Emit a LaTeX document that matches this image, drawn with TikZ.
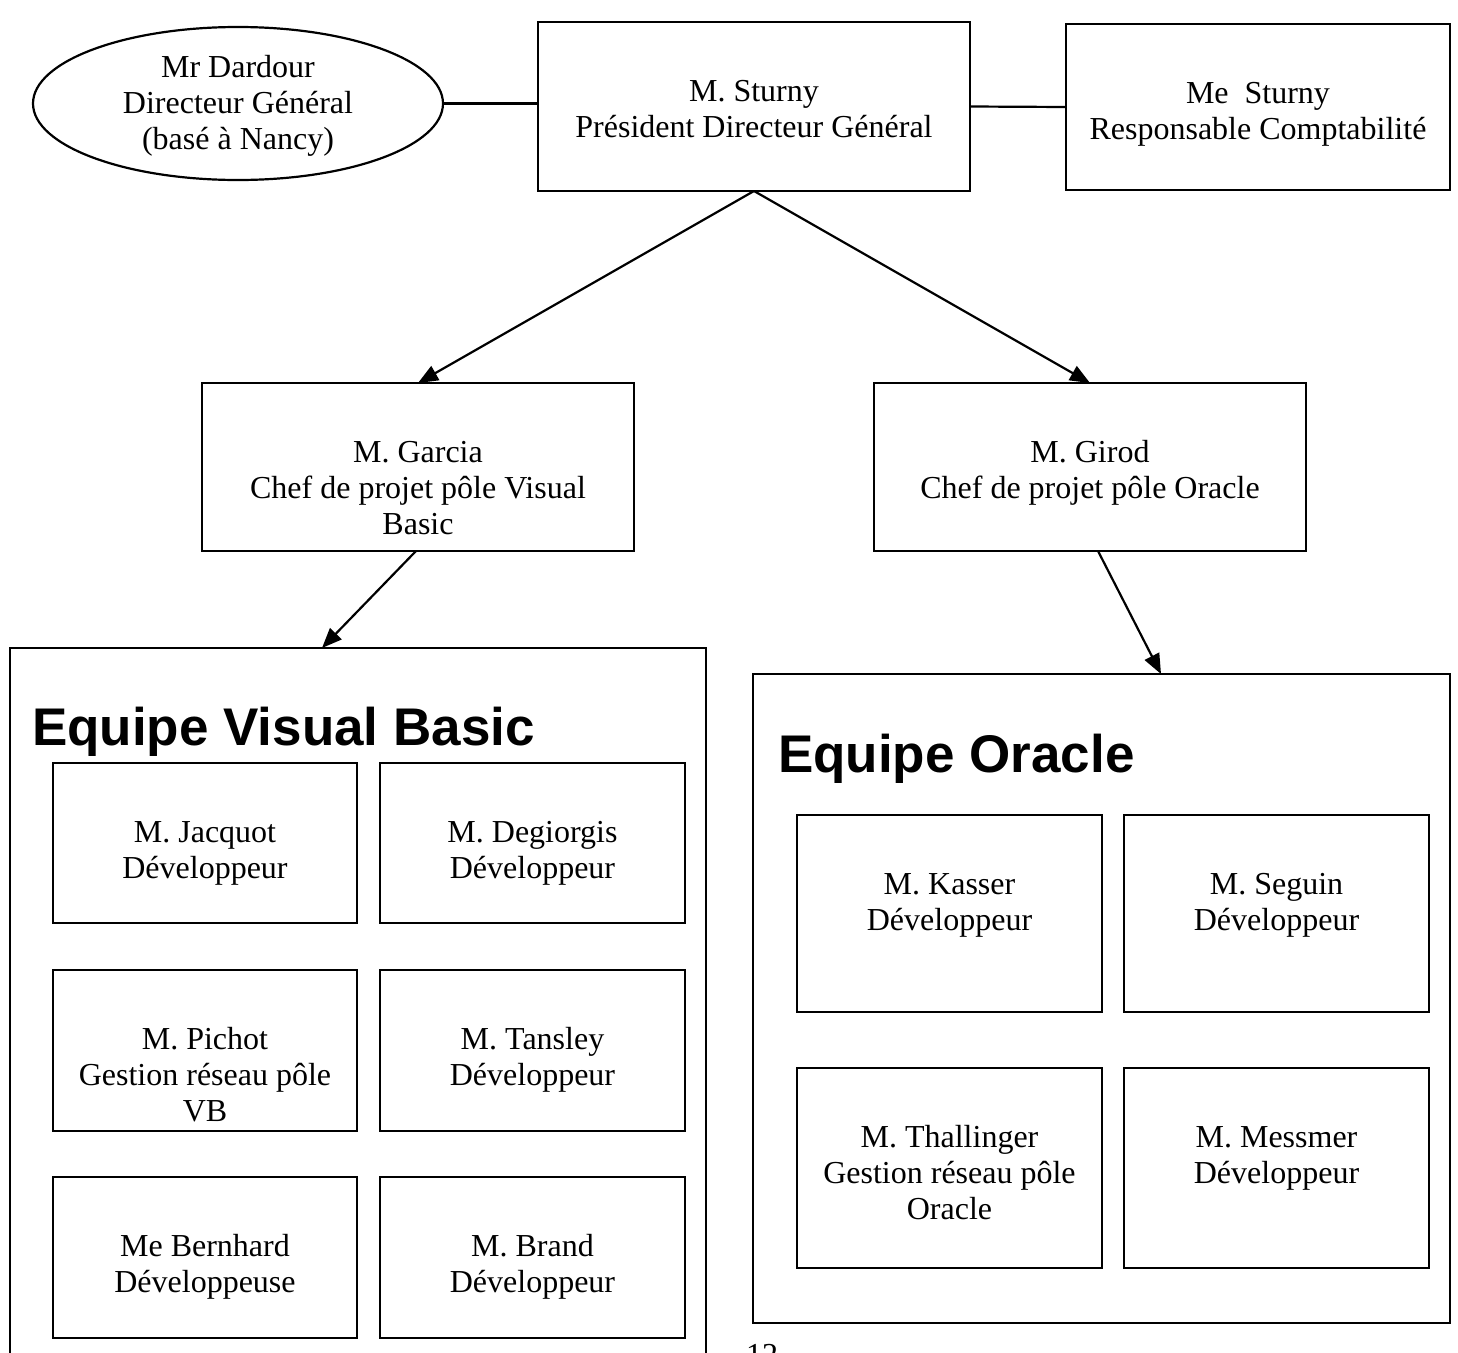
\documentclass[tikz,border=0pt]{standalone}
\usepackage{fontspec}
\setmainfont{Liberation Serif}
\newfontfamily\titlefont{Liberation Sans}
\usetikzlibrary{arrows.meta,shapes.geometric}
\newcommand\orgbox[6]{%
  \node[box, minimum width={(#4-#2)*1pt}, minimum height={(#5-#3)*1pt}] (#1) at ({(#2+#4)/2},{(#3+#5)/2}) {};
  \node[lbl] (#1-t) at ({(#2+#4)/2},{#3+53.5}) {\strut #6};}
\begin{document}
\begin{tikzpicture}[x=1pt,y=-1pt,line width=2.2pt,
  box/.style={draw, rectangle, inner sep=0pt, outer sep=0pt},
  lbl/.style={anchor=north, align=center, inner sep=0pt, font=\fontsize{32}{36}\selectfont},
  ttl/.style={anchor=base west, inner sep=0pt, font=\titlefont\bfseries\fontsize{53}{60}\selectfont},
  arr/.style={-{Triangle[length=20pt,width=16pt]}}]
\useasboundingbox (0,0) rectangle (1458,1352);
\clip (0,0) rectangle (1458,1352);
\fill[white] (0,0) rectangle (1458,1352);

% top row
\node[draw, ellipse, inner sep=0pt, outer sep=0pt, minimum width=410pt, minimum height=153pt] (dard) at (238,103.5) {};
\node[lbl] (dard-t) at (238,51.5) {\strut Mr Dardour\\Directeur Général\\(basé à Nancy)};
\orgbox{pdg}{538}{22}{970}{191}{M. Sturny\\Président Directeur Général}
\orgbox{rc}{1066}{24}{1450}{190}{Me\ \ Sturny\\Responsable Comptabilité}

% chefs de projet
\orgbox{garcia}{202}{383}{634}{551}{M. Garcia\\Chef de projet pôle Visual\\Basic}
\orgbox{girod}{874}{383}{1306}{551}{M. Girod\\Chef de projet pôle Oracle}

% equipes
\node[box, minimum width=696pt, minimum height=752pt] (vb) at (358,1024) {};
\node[box, minimum width=697pt, minimum height=649pt] (ora) at (1101.5,998.5) {};
\node[ttl] (vb-t) at (31,745) {Equipe Visual Basic};
\node[ttl] (ora-t) at (777,772) {Equipe Oracle};

\orgbox{jac}{53}{763}{357}{923}{M. Jacquot\\Développeur}
\orgbox{deg}{380}{763}{685}{923}{M. Degiorgis\\Développeur}
\orgbox{pic}{53}{970}{357}{1131}{M. Pichot\\Gestion réseau pôle\\VB}
\orgbox{tan}{380}{970}{685}{1131}{M. Tansley\\Développeur}
\orgbox{ber}{53}{1177}{357}{1338}{Me Bernhard\\Développeuse}
\orgbox{bra}{380}{1177}{685}{1338}{M. Brand\\Développeur}

\orgbox{kas}{797}{815}{1102}{1012}{M. Kasser\\Développeur}
\orgbox{seg}{1124}{815}{1429}{1012}{M. Seguin\\Développeur}
\orgbox{tha}{797}{1068}{1102}{1268}{M. Thallinger\\Gestion réseau pôle\\Oracle}
\orgbox{mes}{1124}{1068}{1429}{1268}{M. Messmer\\Développeur}

\node[anchor=base west, inner sep=0pt, font=\fontsize{32}{36}\selectfont] (page) at (745,1365) {12};

% connectors
\coordinate (vbtip) at (322,648);
\coordinate (oratip) at (1161,674);
\draw (dard.east) -- (dard.east -| pdg.west);
\draw (pdg.east) -- (rc.west);
\draw[arr] (pdg.south) -- (garcia.north);
\draw[arr] (pdg.south) -- (girod.north);
\draw[arr] ([xshift=-2pt]garcia.south) -- (vbtip);
\draw[arr] ([xshift=8pt]girod.south) -- (oratip);
\end{tikzpicture}
\end{document}
